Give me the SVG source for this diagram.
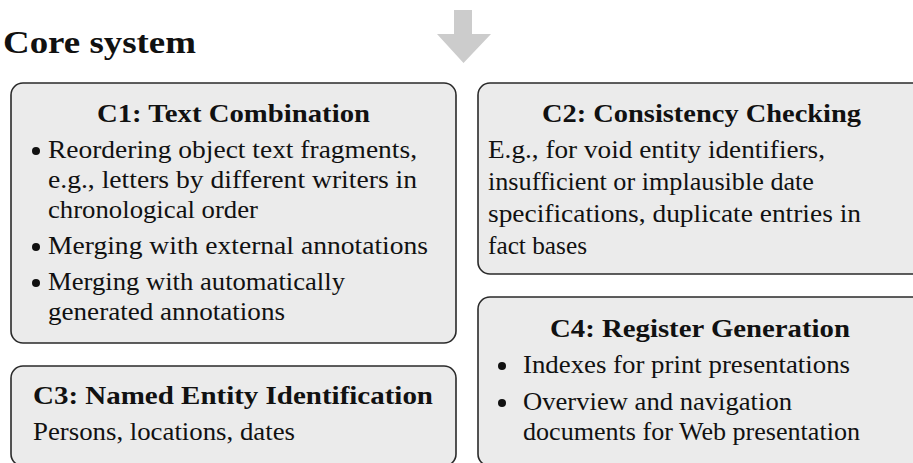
<svg xmlns="http://www.w3.org/2000/svg" width="913" height="463" viewBox="0 0 913 463">
  <style>
    .box { fill: #ebebeb; stroke: #2a2a2a; stroke-width: 1.6; }
    .t { font-family: "Liberation Serif", "Times New Roman", serif; font-size: 25px; fill: #111; }
    .b { font-weight: bold; }
    .h { font-family: "Liberation Serif", "Times New Roman", serif; font-size: 31px; font-weight: bold; fill: #111; }
    .dot { fill: #111; }
  </style>
  <rect width="913" height="463" fill="#ffffff"/>

  <!-- section heading -->
  <text class="h" x="3" y="53" textLength="193" lengthAdjust="spacingAndGlyphs">Core system</text>

  <!-- incoming flow arrow -->
  <g id="connectors">
    <polygon points="454,10 472,10 472,34 491,34 463.5,63 437,34 454,34" fill="#cccccc"/>
  </g>

  <!-- C1 -->
  <g id="c1">
    <rect class="box" x="11" y="83" width="445" height="260" rx="12"/>
    <text class="t b" x="97" y="122" textLength="273" lengthAdjust="spacingAndGlyphs">C1: Text Combination</text>
    <circle class="dot" cx="36" cy="151" r="4"/>
    <text class="t" x="48" y="158" textLength="369" lengthAdjust="spacingAndGlyphs">Reordering object text fragments,</text>
    <text class="t" x="48" y="188" textLength="369" lengthAdjust="spacingAndGlyphs">e.g., letters by different writers in</text>
    <text class="t" x="48" y="218" textLength="210" lengthAdjust="spacingAndGlyphs">chronological order</text>
    <circle class="dot" cx="36" cy="247" r="4"/>
    <text class="t" x="48" y="254" textLength="380" lengthAdjust="spacingAndGlyphs">Merging with external annotations</text>
    <circle class="dot" cx="36" cy="283" r="4"/>
    <text class="t" x="48" y="290" textLength="297" lengthAdjust="spacingAndGlyphs">Merging with automatically</text>
    <text class="t" x="48" y="320" textLength="237" lengthAdjust="spacingAndGlyphs">generated annotations</text>
  </g>

  <!-- C2 -->
  <g id="c2">
    <rect class="box" x="478" y="83" width="450" height="191" rx="12"/>
    <text class="t b" x="542" y="122" textLength="319" lengthAdjust="spacingAndGlyphs">C2: Consistency Checking</text>
    <text class="t" x="488" y="158" textLength="337" lengthAdjust="spacingAndGlyphs">E.g., for void entity identifiers,</text>
    <text class="t" x="488" y="190" textLength="326" lengthAdjust="spacingAndGlyphs">insufficient or implausible date</text>
    <text class="t" x="488" y="222" textLength="373" lengthAdjust="spacingAndGlyphs">specifications, duplicate entries in</text>
    <text class="t" x="488" y="254" textLength="99" lengthAdjust="spacingAndGlyphs">fact bases</text>
  </g>

  <!-- C3 -->
  <g id="c3">
    <rect class="box" x="11" y="366" width="445" height="100" rx="12"/>
    <text class="t b" x="33" y="404" textLength="400" lengthAdjust="spacingAndGlyphs">C3: Named Entity Identification</text>
    <text class="t" x="33" y="440" textLength="262" lengthAdjust="spacingAndGlyphs">Persons, locations, dates</text>
  </g>

  <!-- C4 -->
  <g id="c4">
    <rect class="box" x="478" y="297" width="450" height="169" rx="12"/>
    <text class="t b" x="550" y="337" textLength="300" lengthAdjust="spacingAndGlyphs">C4: Register Generation</text>
    <circle class="dot" cx="502" cy="366" r="4"/>
    <text class="t" x="523" y="373" textLength="327" lengthAdjust="spacingAndGlyphs">Indexes for print presentations</text>
    <circle class="dot" cx="502" cy="403" r="4"/>
    <text class="t" x="523" y="410" textLength="269" lengthAdjust="spacingAndGlyphs">Overview and navigation</text>
    <text class="t" x="523" y="440" textLength="337" lengthAdjust="spacingAndGlyphs">documents for Web presentation</text>
  </g>
</svg>
